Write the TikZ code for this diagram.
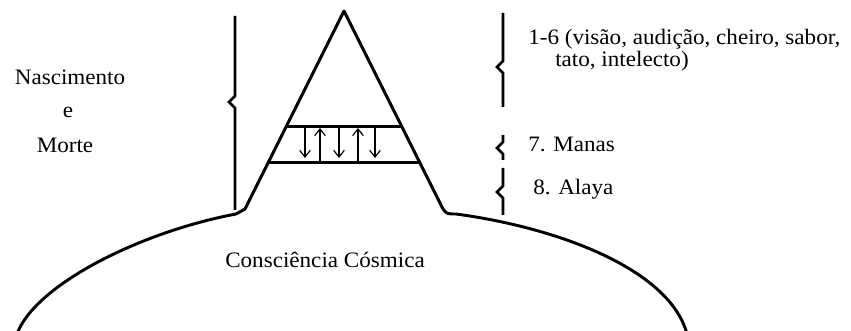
\documentclass[tikz,border=0pt]{standalone}
\usepackage{fontspec}
\setmainfont{Liberation Serif}[FakeStretch=1.05]
\usepackage{tikz}
\usetikzlibrary{calc,arrows.meta}
\tikzstyle{every picture}=[>={Straight Barb[length=5pt,width=8pt]}]
\tikzstyle{outline}=[line width=2.2pt,line join=round]
\tikzstyle{bracket}=[line width=2pt,line join=miter]
\tikzstyle{flow}=[->,line width=0.9pt]
\tikzstyle{label}=[inner sep=0pt,font=\fontsize{16.5}{18}\selectfont]
% vertical bar with a small notch: x, top, bottom, notch
\newcommand{\sidebrace}[4]{%
  \draw[bracket] (#1,#2) -- (#1,#4-6) -- (#1-6,#4) -- (#1,#4+6) -- (#1,#3);}

\begin{document}
\begin{tikzpicture}[x=0.75pt,y=-0.75pt]
    \useasboundingbox (0,0) rectangle (851,331);

    % Triangle
    \coordinate (apex) at (344,11);
    \coordinate (lfoot) at (245,209);
    \coordinate (rfoot) at (443,209);

    % Outline of the triangle and the cosmic body
    \draw[outline] (17,334) .. controls (35,285) and (140,232) .. (236,214)
        -- (lfoot) -- (apex) -- (rfoot)
        .. controls (447,214) .. (456,214)
        .. controls (560,228) and (670,270) .. (687,334);

    % Manas band
    \coordinate (b1l) at ($(apex)!0.581!(lfoot)$);
    \coordinate (b1r) at ($(apex)!0.581!(rfoot)$);
    \coordinate (b2l) at ($(apex)!0.763!(lfoot)$);
    \coordinate (b2r) at ($(apex)!0.763!(rfoot)$);
    \draw[outline] (b1l) -- (b1r);
    \draw[outline] (b2l) -- (b2r);

    % Arrows inside the band
    \foreach \x [count=\i] in {305,339,375} {
        \coordinate (dt\i) at (\x,128);
        \coordinate (db\i) at (\x,158);
        \draw[flow] (dt\i) -- (db\i);
    }
    \foreach \x [count=\i] in {320,358} {
        \coordinate (ub\i) at (\x,161);
        \coordinate (ut\i) at (\x,128);
        \draw[flow] (ub\i) -- (ut\i);
    }

    % Brackets
    \sidebrace{235}{16}{210}{102}
    \sidebrace{503}{13}{107}{67}
    \sidebrace{503}{135}{160}{148}
    \sidebrace{503}{168}{215}{192}

    % Labels on the left
    \node[label,anchor=base] (nasc) at (70,85) {Nascimento};
    \node[label,anchor=base] (conj) at (68,118) {e};
    \node[label,anchor=base] (morte) at (65,153) {Morte};

    % Labels on the right
    \node[label,anchor=base west] (sens) at (528,45) {1-6 (visão, audição, cheiro, sabor,};
    \node[label,anchor=base west] (sensb) at (555,67) {tato, intelecto)};
    \node[label,anchor=base west] (manas) at (528,152) {7. Manas};
    \node[label,anchor=base west] (alaya) at (533,195) {8. Alaya};

    % Cosmic consciousness
    \node[label,anchor=base west] (cosmic) at (225,268) {Consciência Cósmica};

\end{tikzpicture}
\end{document}
